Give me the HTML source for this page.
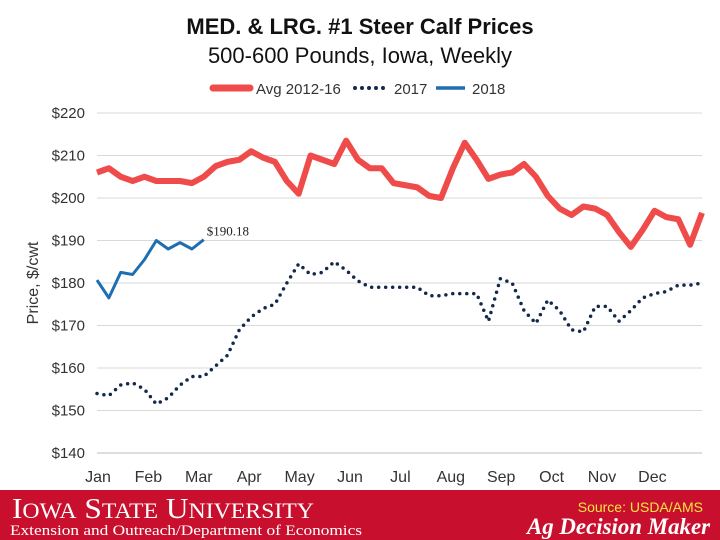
<!DOCTYPE html>
<html><head><meta charset="utf-8"><style>
body{margin:0;width:720px;height:540px;overflow:hidden;background:#fff;font-family:"Liberation Sans",Arial,sans-serif}
svg{display:block}
</style></head><body>
<svg width="720" height="540">
<text x="360" y="34" text-anchor="middle" font-size="22" font-weight="bold" fill="#111">MED. &amp; LRG. #1 Steer Calf Prices</text>
<text x="360" y="63" text-anchor="middle" font-size="22" fill="#111">500-600 Pounds, Iowa, Weekly</text>
<g>
<line x1="213" y1="88" x2="250" y2="88" stroke="#f04b4b" stroke-width="7" stroke-linecap="round"/>
<text x="256" y="94" font-size="15" fill="#333">Avg 2012-16</text>
<line x1="355" y1="88" x2="388" y2="88" stroke="#14284b" stroke-width="4" stroke-dasharray="0 7" stroke-linecap="round"/>
<text x="394" y="94" font-size="15" fill="#333">2017</text>
<line x1="436" y1="88" x2="465" y2="88" stroke="#1f6fb0" stroke-width="3.5"/>
<text x="472" y="94" font-size="15" fill="#333">2018</text>
</g>
<g id="grid"></g><g id="ylab"></g><g id="xlab"></g>
<text transform="translate(38,283) rotate(-90)" text-anchor="middle" font-size="16" fill="#333">Price, $/cwt</text>
<g id="series"></g>
<rect x="0" y="490" width="720" height="50" fill="#c8102e"/>
<text x="12" y="518" font-family="Liberation Serif,serif" font-size="29" fill="#fff" textLength="302" lengthAdjust="spacingAndGlyphs">I<tspan font-size="22">OWA</tspan> S<tspan font-size="22">TATE</tspan> U<tspan font-size="22">NIVERSITY</tspan></text>
<text x="10" y="535" font-family="Liberation Serif,serif" font-size="15" fill="#fff" textLength="352" lengthAdjust="spacingAndGlyphs">Extension and Outreach/Department of Economics</text>
<text x="703" y="512" text-anchor="end" font-size="14" fill="#f5e642">Source: USDA/AMS</text>
<text x="527" y="534" font-family="Liberation Serif,serif" font-size="23" font-weight="bold" font-style="italic" fill="#fff" textLength="183" lengthAdjust="spacingAndGlyphs">Ag Decision Maker</text>
</svg>
<script>
const months=["Jan","Feb","Mar","Apr","May","Jun","Jul","Aug","Sep","Oct","Nov","Dec"];
const yTicks=[140,150,160,170,180,190,200,210,220];
const avg=[206,207,205,204,205,204,204,204,203.5,205,207.5,208.5,209,211,209.5,208.5,204,201,210,209,208,213.5,209,207,207,203.5,203,202.5,200.5,200,207,213,209,204.5,205.5,206,208,205,200.5,197.5,196,198,197.5,196,192,188.5,192.5,197,195.5,195,189,196.5];
const y2017=[154,153.5,156,156.5,155,151.5,153,156,158,158,160.5,163,169,172,174,175,180,184.5,182,182.5,185,183,180.5,179,179,179,179,179,177,177,177.5,177.5,177.5,171,181,180,173.5,170.5,176,173.5,169,168.5,174.5,174.5,171,173.5,176.5,177.5,178,179.5,179.5,180];
const y2018=[180.7,176.5,182.5,182,185.5,190,188,189.5,188,190.18];
const ns="http://www.w3.org/2000/svg";
const X=i=>97+i*(702-97)/51, Y=v=>453-(v-140)*4.25;
function mk(t,a,p){const e=document.createElementNS(ns,t);for(const k in a)e.setAttribute(k,a[k]);document.getElementById(p).appendChild(e);return e;}
yTicks.forEach(v=>{
 const l=mk("line",{x1:97,x2:702,y1:Y(v),y2:Y(v),stroke:v==140?"#bbb":"#d9d9d9","stroke-width":1},"grid");
 
 
 const t=mk("text",{x:85,y:Y(v)+5,"text-anchor":"end","font-size":15,fill:"#333"},"ylab");t.textContent="$"+v;
 
 
});
months.forEach((m,i)=>{
 const t=mk("text",{x:98+i*50.4,y:482,"text-anchor":"middle","font-size":16,fill:"#333"},"xlab");t.textContent=m;
 
 
});
const pts=a=>a.map((v,i)=>X(i)+","+Y(v)).join(" ");
const a=mk("polyline",{points:pts(avg),fill:"none",stroke:"#f04b4b","stroke-width":6,"stroke-linejoin":"round"},"series");


const b=mk("polyline",{points:pts(y2017),fill:"none",stroke:"#14284b","stroke-width":3.5,"stroke-dasharray":"0 7","stroke-linecap":"round"},"series");


const c=mk("polyline",{points:pts(y2018),fill:"none",stroke:"#1f6fb0","stroke-width":3,"stroke-linejoin":"round"},"series");


const last=y2018.length-1;
const lb=mk("text",{x:X(last)+3,y:Y(y2018[last])-4,"font-size":13,fill:"#222","font-family":"Liberation Serif,serif"},"series");
lb.textContent="$"+y2018[last].toFixed(2);


</script>
</body></html>
